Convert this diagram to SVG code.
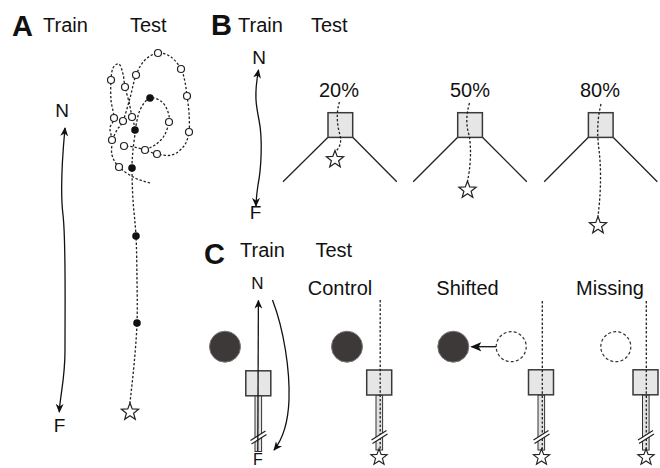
<svg xmlns="http://www.w3.org/2000/svg" xmlns:xlink="http://www.w3.org/1999/xlink" width="660" height="468" viewBox="0 0 660 468">
<style>
text{font-family:"Liberation Sans",Arial,sans-serif;fill:#111}
.lab{font-size:20px}
.big{font-size:29px;font-weight:bold}
.nf{font-size:19px;text-anchor:middle}
.nfc{font-size:17px;text-anchor:middle}
.pct{font-size:20px;text-anchor:middle}
.ctr{font-size:20px;text-anchor:middle}
.dot{fill:none;stroke:#222;stroke-width:1.3;stroke-dasharray:2.4 1.9}
.oc{fill:#fff;stroke:#222;stroke-width:1.2}
.fc{fill:#111;stroke:none}
.solid{fill:none;stroke:#111;stroke-width:1.3}
.box{fill:#e6e6e6;stroke:#3a3a3a;stroke-width:1.5}
.arm{fill:none;stroke:#222;stroke-width:1.3}
.star{fill:#fff;stroke:#222;stroke-width:1.2}
.obj{fill:#3d3939;stroke:#7a7676;stroke-width:1}
.ghost{fill:none;stroke:#333;stroke-width:1.2;stroke-dasharray:3 2.2}
.tube{fill:#e2e2e2;stroke:#333;stroke-width:1}
.brk{fill:#fff;stroke:none}
.brkl{fill:none;stroke:#222;stroke-width:1.2}
</style>
<defs>
<marker id="ah" viewBox="0 0 10 10" refX="9" refY="5" markerWidth="9" markerHeight="9" markerUnits="userSpaceOnUse" orient="auto-start-reverse">
<path d="M0,0.6 L10,5 L0,9.4 L2.8,5 z" fill="#111"/>
</marker>
<marker id="ah2" viewBox="0 0 10 10" refX="9" refY="5" markerWidth="11" markerHeight="11" markerUnits="userSpaceOnUse" orient="auto">
<path d="M0,0.8 L10,5 L0,9.2 L2.5,5 z" fill="#111"/>
</marker>
<path id="star" d="M0,-9 L2.23,-3.07 L8.56,-2.78 L3.61,1.17 L5.29,7.28 L0,3.8 L-5.29,7.28 L-3.61,1.17 L-8.56,-2.78 L-2.23,-3.07 Z"/>
</defs>

<!-- Panel labels -->
<g id="titles">
<text class="big" x="12" y="36">A</text>
<text class="lab" x="43" y="31.5">Train</text>
<text class="lab" x="130" y="31.5">Test</text>
<text class="big" x="211" y="35">B</text>
<text class="lab" x="238" y="32">Train</text>
<text class="lab" x="311" y="32">Test</text>
<text class="big" x="204" y="263.5">C</text>
<text class="lab" x="240" y="256.5">Train</text>
<text class="lab" x="315.5" y="256.5">Test</text>
</g>

<!-- Panel A -->
<g id="a-train">
<text class="nf" x="62" y="117">N</text>
<text class="nf" x="59.5" y="432">F</text>
</g>
<g id="a-test">
<path class="dot" d="M112,140 C113.7,136.7 115.2,133.2 117,130 S120.8,126.3 123,121 S127.8,105.7 130,98 S133.5,81.3 136,75 S141.3,63.7 145,60 S153.7,53.5 158,53 S167.2,54.3 171,57 S178.7,64.8 181,69 S184,77.5 185,82 S186.3,90.8 187,96 S188.7,107 189,113 S189.8,126.5 189,132 S186.8,142.2 184,146 S176.5,153.7 172,155 S161.5,154.8 157,154 S148.8,151.2 145,150 S137.5,147.7 134,147 S127.3,146.3 124,146"/>
<path class="dot" d="M150,183 C145,181.3 140.2,180.7 135,178 S122.8,170.8 119,167 S113.2,159.5 112,155 S112.3,144.5 112,140 S109.7,131.7 110,128 S113.8,122.7 114,118 S111.5,106.3 111,100 S110.7,85.3 111,80 S111.7,70.7 113,68 S117.3,63 119,64 S122,70.2 123,74 S124,82.3 125,87 S127.8,97 129,102 S131,112.3 132,117 S134.8,124.5 135,130 S133.5,143.7 133,150 S132,159.7 132,168 S132.3,188.7 133,200 S135.3,222.7 136,236 S136.8,265.5 137,280 S137.5,308.8 137,323 S135.2,351.7 134,365 S131.3,390.3 130,403"/>
<path class="dot" d="M135,130 C136.7,123.3 137.5,115.3 140,110 S146.3,99.3 150,98 S159,99.7 162,102 S166.8,108.7 168,112 S169.7,118 169,122 S166.3,132.2 164,136 S158.2,142.7 155,145 S148.3,148.3 145,150"/>
<g>
<circle class="oc" cx="158" cy="53" r="3.5"/>
<circle class="oc" cx="181" cy="69" r="3.5"/>
<circle class="oc" cx="111" cy="80" r="3.5"/>
<circle class="oc" cx="136" cy="75" r="3.5"/>
<circle class="oc" cx="125" cy="87" r="3.5"/>
<circle class="oc" cx="187" cy="96" r="3.5"/>
<circle class="oc" cx="114" cy="118" r="3.5"/>
<circle class="oc" cx="123" cy="121" r="3.5"/>
<circle class="oc" cx="132" cy="117" r="3.5"/>
<circle class="oc" cx="169" cy="122" r="3.5"/>
<circle class="oc" cx="189" cy="132" r="3.5"/>
<circle class="oc" cx="112" cy="140" r="3.5"/>
<circle class="oc" cx="124" cy="146" r="3.5"/>
<circle class="oc" cx="145" cy="150" r="3.5"/>
<circle class="oc" cx="157" cy="154" r="3.5"/>
<circle class="oc" cx="119" cy="167" r="3.5"/>
<circle class="fc" cx="150" cy="98" r="3.8"/>
<circle class="fc" cx="135" cy="130" r="3.8"/>
<circle class="fc" cx="132" cy="168" r="3.8"/>
<circle class="fc" cx="136" cy="236" r="3.8"/>
<circle class="fc" cx="137" cy="323" r="3.8"/>
</g>
<use href="#star" class="star" x="130" y="412"/>
</g>

<!-- Panel B -->
<g id="b-train">
<text class="nf" x="259" y="63.5">N</text>
<text class="nf" x="255.5" y="218.5">F</text>
</g>
<g id="b-20">
<text class="pct" x="339" y="96.5">20%</text>
<path class="arm" d="M283,181.7 L328,137.3 M352.7,137.3 L396.8,181.7"/>
<rect class="box" x="328" y="112.7" width="24.7" height="24.7"/>
<path class="dot" d="M339.5,102 C336,112 337,125 340,135 C342,143 339,148 336.5,150.5"/>
<use href="#star" class="star" x="335" y="159.5"/>
</g>
<g id="b-50">
<text class="pct" x="470" y="96.5">50%</text>
<path class="arm" d="M413.2,181.7 L457.7,137.3 M482.4,137.3 L526.8,181.7"/>
<rect class="box" x="457.7" y="112.7" width="24.7" height="24.7"/>
<path class="dot" d="M469.5,103 C466,115 466,125 469,135 C472,150 470,170 467.5,181"/>
<use href="#star" class="star" x="467.5" y="190"/>
</g>
<g id="b-80">
<text class="pct" x="600" y="96.5">80%</text>
<path class="arm" d="M544.2,181.7 L588.4,137.3 M613.1,137.3 L657.3,181.7"/>
<rect class="box" x="588.4" y="112.7" width="24.7" height="24.7"/>
<path class="dot" d="M601,104 C597,120 597,135 599,150 C602,175 600,200 598,216.5"/>
<use href="#star" class="star" x="598" y="225.5"/>
</g>

<!-- Panel C -->
<g id="c-train">
<text class="nfc" x="257.5" y="288.5">N</text>
<circle class="obj" cx="225" cy="346.7" r="15.5"/>
<rect class="tube" x="255" y="395.5" width="6.6" height="56"/>
<rect class="box" x="245.8" y="370.8" width="25" height="25"/>
<path class="brk" d="M250.5,440.5 L265.5,431 L266.5,434.5 L251.5,444 Z"/>
<path class="brkl" d="M250.5,440.5 L265.5,431 M251.5,444 L266.5,434.5"/>
<text x="258" y="464.5" font-size="16" text-anchor="middle">F</text>
</g>
<g id="c-control">
<text class="ctr" x="340" y="295">Control</text>
<circle class="obj" cx="347" cy="346.7" r="15.5"/>
<rect class="tube" x="376" y="395" width="6.6" height="55"/>
<rect class="box" x="366.7" y="370" width="25" height="25"/>
<path class="dot" d="M380.2,300 L380.2,449"/>
<path class="brk" d="M371.5,440 L386.5,430.5 L387.5,434 L372.5,443.5 Z"/>
<path class="brkl" d="M371.5,440 L386.5,430.5 M372.5,443.5 L387.5,434"/>
<use href="#star" class="star" x="379" y="457.3" transform="translate(379 457.3) scale(0.95) translate(-379 -457.3)"/>
</g>
<g id="c-shifted">
<text class="ctr" x="467.5" y="295">Shifted</text>
<circle class="obj" cx="453.3" cy="346.7" r="15.5"/>
<circle class="ghost" cx="511.2" cy="346.7" r="15"/>
<rect class="tube" x="538" y="395" width="6.6" height="55"/>
<rect class="box" x="528.5" y="369.8" width="25" height="25"/>
<path class="dot" d="M542.3,301 L542.3,449"/>
<path class="brk" d="M533.5,440 L548.5,430.5 L549.5,434 L534.5,443.5 Z"/>
<path class="brkl" d="M533.5,440 L548.5,430.5 M534.5,443.5 L549.5,434"/>
<use href="#star" class="star" x="541.5" y="457.3" transform="translate(541.5 457.3) scale(0.95) translate(-541.5 -457.3)"/>
</g>
<g id="c-missing">
<text class="ctr" x="610" y="295">Missing</text>
<circle class="ghost" cx="615.8" cy="346.7" r="15"/>
<rect class="tube" x="642.5" y="395" width="6.6" height="55"/>
<rect class="box" x="633" y="369.8" width="25" height="25"/>
<path class="dot" d="M646.3,301 L646.3,449"/>
<path class="brk" d="M638,440 L653,430.5 L654,434 L639,443.5 Z"/>
<path class="brkl" d="M638,440 L653,430.5 M639,443.5 L654,434"/>
<use href="#star" class="star" x="646" y="457.3" transform="translate(646 457.3) scale(0.95) translate(-646 -457.3)"/>
</g>

<!-- Connectors -->
<g id="connectors">
<path class="solid" d="M65,128 C62,160 60,190 63,215 C66,240 65,300 65,350 C65,380 60,395 59.3,412" marker-start="url(#ah)" marker-end="url(#ah)"/>
<path class="solid" d="M258.5,70 C254,95 256,105 259,120 C263,140 261,170 258,185 C257,192 256,200 256,206" marker-start="url(#ah)" marker-end="url(#ah)"/>
<path class="solid" d="M257.8,451 L258.4,300.5" marker-end="url(#ah)"/>
<path class="solid" d="M272.5,300 C284,330 290,370 289,400 C288,425 282,440 274,450" marker-end="url(#ah)"/>
<path class="solid" d="M496.2,346.7 L471.5,346.7" stroke-width="2" marker-end="url(#ah2)"/>
</g>
</svg>
